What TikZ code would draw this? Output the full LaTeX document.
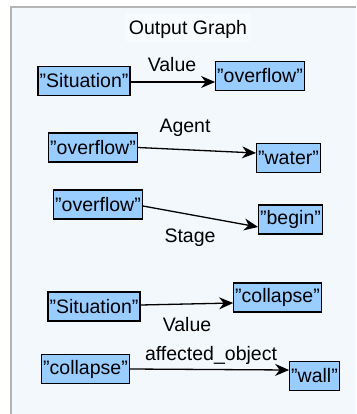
\documentclass[tikz,border=0pt]{standalone}
\usepackage{fontspec}
\setmainfont{Liberation Sans}
\usetikzlibrary{arrows.meta}
\definecolor{panelfill}{HTML}{F3F8FC}
\definecolor{titlefill}{HTML}{F8FBFE}
\definecolor{panelborder}{HTML}{B4B4B4}
\definecolor{boxfill}{HTML}{99CCFF}
\newcommand{\dq}{\symbol{34}}
\tikzset{
  gbox/.style={draw=black, line width=1.2pt, fill=boxfill, inner xsep=1.5pt, inner ysep=0pt,
    minimum height=29pt, font=\fontsize{19.5}{22}\selectfont},
  glabel/.style={inner sep=0pt, font=\fontsize{19.5}{22}\selectfont},
  gedge/.style={line width=1.3pt, -{Stealth[length=14pt,width=12pt]}}
}
\begin{document}
\begin{tikzpicture}[x=1pt,y=-1pt]
\useasboundingbox (0,0) rectangle (356,414);
\fill[white] (0,0) rectangle (356,414);
\fill[panelfill] (11,7) rectangle (356,414);
\draw[panelborder, line width=1.6pt] (11,414) -- (11,7) -- (356,7);
\fill[titlefill] (126,13) rectangle (250,42);
\node[glabel] (title) at (188,29) {Output Graph};

\node[gbox] (s1) at (84,81) {\dq Situation\dq};
\node[gbox] (o1) at (260,76) {\dq overflow\dq};
\node[gbox] (o2) at (93,147.5) {\dq overflow\dq};
\node[gbox] (w) at (288.5,158) {\dq water\dq};
\node[gbox] (o3) at (98,204.5) {\dq overflow\dq};
\node[gbox] (b) at (290.5,219.5) {\dq begin\dq};
\node[gbox] (s2) at (94,306.5) {\dq Situation\dq};
\node[gbox] (c1) at (277.5,297.5) {\dq collapse\dq};
\node[gbox] (c2) at (85.5,369) {\dq collapse\dq};
\node[gbox] (wall) at (314.5,376) {\dq wall\dq};

\node[glabel] (l1) at (172,65) {Value};
\node[glabel] (l2) at (185,128) {Agent};
\node[glabel] (l3) at (190,238) {Stage};
\node[glabel] (l4) at (187,325) {Value};
\node[glabel] (l5) at (211,355) {affected\_object};

\draw[gedge] ([yshift=-1pt]s1.east) -- ([yshift=-6pt]o1.west);
\draw[gedge] (o2.east) -- ([yshift=5pt]w.west);
\draw[gedge] ([yshift=-1.5pt]o3.east) -- ([yshift=-7.5pt]b.west);
\draw[gedge] ([yshift=1.5pt]s2.east) -- ([yshift=-5.5pt]c1.west);
\draw[gedge] (c2.east) -- ([yshift=6pt]wall.west);
\end{tikzpicture}
\end{document}
